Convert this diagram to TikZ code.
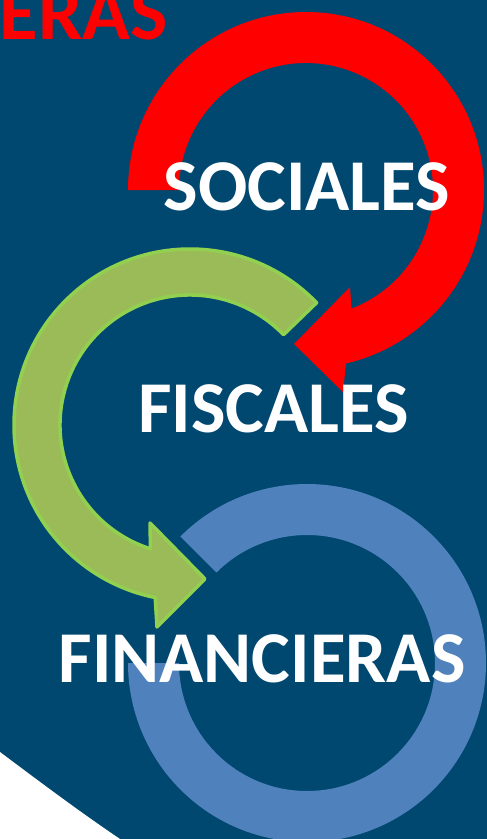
\documentclass[tikz,border=0pt]{standalone}
\usepackage{fontspec}
\setmainfont{Carlito}
\usetikzlibrary{calc}
\definecolor{bg}{RGB}{0,72,112}
\definecolor{gfill}{RGB}{155,187,89}
\definecolor{gline}{RGB}{146,208,80}
\definecolor{bring}{RGB}{79,129,189}
\tikzset{
  lbl/.style={text=white, font=\bfseries\fontsize{73}{80}\selectfont, inner sep=0pt, anchor=base},
  ttl/.style={text=red, font=\bfseries\fontsize{79}{86}\selectfont, inner sep=0pt, anchor=base east},
}
\begin{document}
\begin{tikzpicture}[x=1pt,y=-1pt]
\useasboundingbox (0,0) rectangle (487,839);
\clip (0,0) rectangle (487,839);
\fill[bg] (0,0) rectangle (487,839);
\fill[white] (0,752) .. controls (40,782) and (80,812) .. (120,839) -- (0,839) -- cycle;
% title fragment
\node[ttl] (title) at (168,39) {ERAS};
% blue ring
\coordinate (cb) at (307,663);
\fill[bring] (cb) ++(225:179) arc[start angle=225, end angle=540, radius=179]
  -- ($(cb)+(540:128)$) arc[start angle=540, end angle=225, radius=128] -- cycle;
% green arrow
\coordinate (cg) at (190,425);
\filldraw[fill=gfill, draw=gline, line width=3.5, line join=round]
  (cg) ++(-44:176) arc[start angle=-44, end angle=-258.6, radius=176]
  -- (157,627) -- (205,579) -- (150,523)
  -- ($(cg)+(-252.3:130)$) arc[start angle=-252.3, end angle=-44, radius=130] -- cycle;
% red arrow
\coordinate (cr) at (306,190);
\fill[red, line join=round]
  (cr) ++(180:178) arc[start angle=180, end angle=437, radius=178]
  -- (343,392) -- (294,344) -- (350,287)
  -- ($(cr)+(429:127)$) arc[start angle=429, end angle=180, radius=127] -- cycle;
% labels
\node[lbl] (soc) at (307,210) {SOCIALES};
\node[lbl] (fis) at (273.5,432) {FISCALES};
\node[lbl] (fin) at (262,682) {FINANCIERAS};
\end{tikzpicture}
\end{document}
